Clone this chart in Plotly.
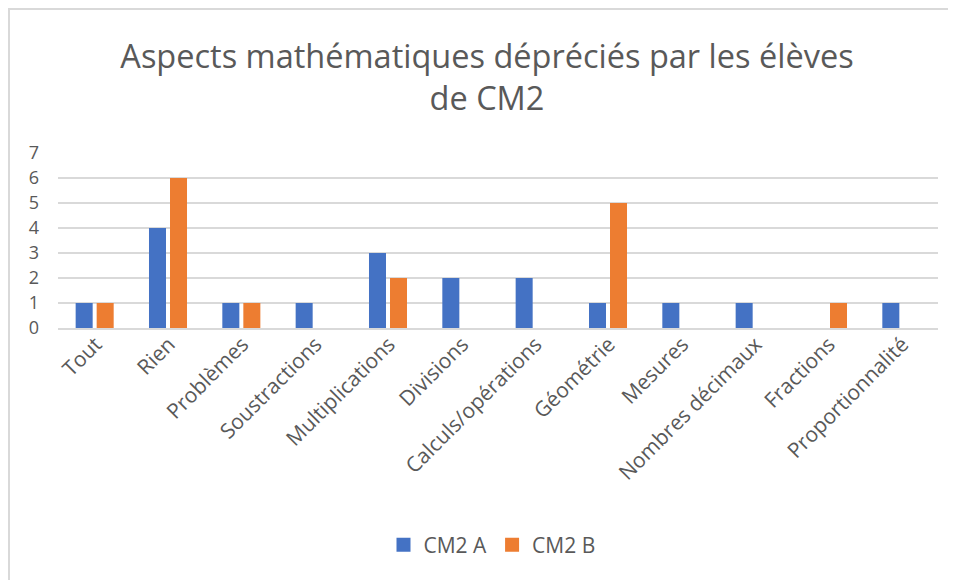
import plotly.graph_objects as go

categories = ["Tout", "Rien", "Problèmes", "Soustractions", "Multiplications", "Divisions",
              "Calculs/opérations", "Géométrie", "Mesures", "Nombres décimaux", "Fractions",
              "Proportionnalité"]
cm2_a = [1, 4, 1, 1, 3, 2, 2, 1, 1, 1, 0, 1]
cm2_b = [1, 6, 1, 0, 2, 0, 0, 5, 0, 0, 1, 0]
y_ticks = [0, 1, 2, 3, 4, 5, 6, 7]
series_names = ["CM2 A", "CM2 B"]
series_colors = ["#4472C4", "#ED7D31"]

# the page body has an 8px margin, so the figure is 8px smaller than the window
OFF = 8
W, H = 956 - OFF, 580 - OFF
L, R, T, B = 58 - OFF, 18, 153 - OFF, 252
FONT = "Open Sans, Noto Sans, sans-serif"
GREY = "#595959"
FS = 21

fig = go.Figure()
for name, vals, col in zip(series_names, [cm2_a, cm2_b], series_colors):
    fig.add_trace(go.Bar(name=name, x=categories, y=vals, marker_color=col,
                         marker_line_width=0, showlegend=False, legendgroup=name))
# legend-only entries with larger square swatches
for name, col in zip(series_names, series_colors):
    fig.add_trace(go.Scatter(name=name, x=[None], y=[None], mode="markers",
                             marker=dict(symbol="square", size=14, color=col),
                             showlegend=True, legendgroup=name))

pw = W - L - R
ph = H - T - B
def px(x):  # x in window pixels
    return (x - OFF - L) / pw
def py(y):  # y in window pixels
    return (H - B - (y - OFF)) / ph

fig.update_layout(
    width=W, height=H,
    margin=dict(l=L, r=R, t=T, b=B, autoexpand=False),
    paper_bgcolor="white", plot_bgcolor="white",
    barmode="group", bargap=0.427, bargroupgap=0.19,
    font=dict(family=FONT, color=GREY),
    title=dict(text="Aspects mathématiques dépréciés par les élèves<br>de CM2",
               x=0.5 + 5 / W, xanchor="center", xref="container",
               y=1 - 60 / H, yanchor="top", yref="container",
               font=dict(size=32.5, color=GREY, family=FONT)),
    xaxis=dict(tickangle=-45, tickfont=dict(size=FS, color=GREY, family=FONT),
               showgrid=False, showline=True, linecolor="#d9d9d9", linewidth=1.5,
               ticks="", ticklabelstandoff=-6, ticklabelshift=1, fixedrange=True),
    yaxis=dict(range=[0, 7], tickvals=y_ticks, tickfont=dict(size=18, color=GREY, family=FONT),
               showgrid=True, gridcolor="#d9d9d9", gridwidth=1.5, zeroline=False,
               showline=False, ticks="", ticklabelstandoff=18, fixedrange=True),
    legend=dict(orientation="h", x=px(492), xanchor="center", xref="paper",
                y=py(545), yanchor="middle", yref="paper",
                font=dict(size=FS, color=GREY, family=FONT),
                itemwidth=30, traceorder="normal"),
    showlegend=True,
    shapes=[
        dict(type="line", xref="paper", yref="paper", x0=px(8), x1=px(956), y0=py(9), y1=py(9),
             line=dict(color="#d9d9d9", width=2)),
        dict(type="line", xref="paper", yref="paper", x0=px(9), x1=px(9), y0=py(9), y1=py(580),
             line=dict(color="#d9d9d9", width=2)),
    ],
)

fig.write_html("out.html")
